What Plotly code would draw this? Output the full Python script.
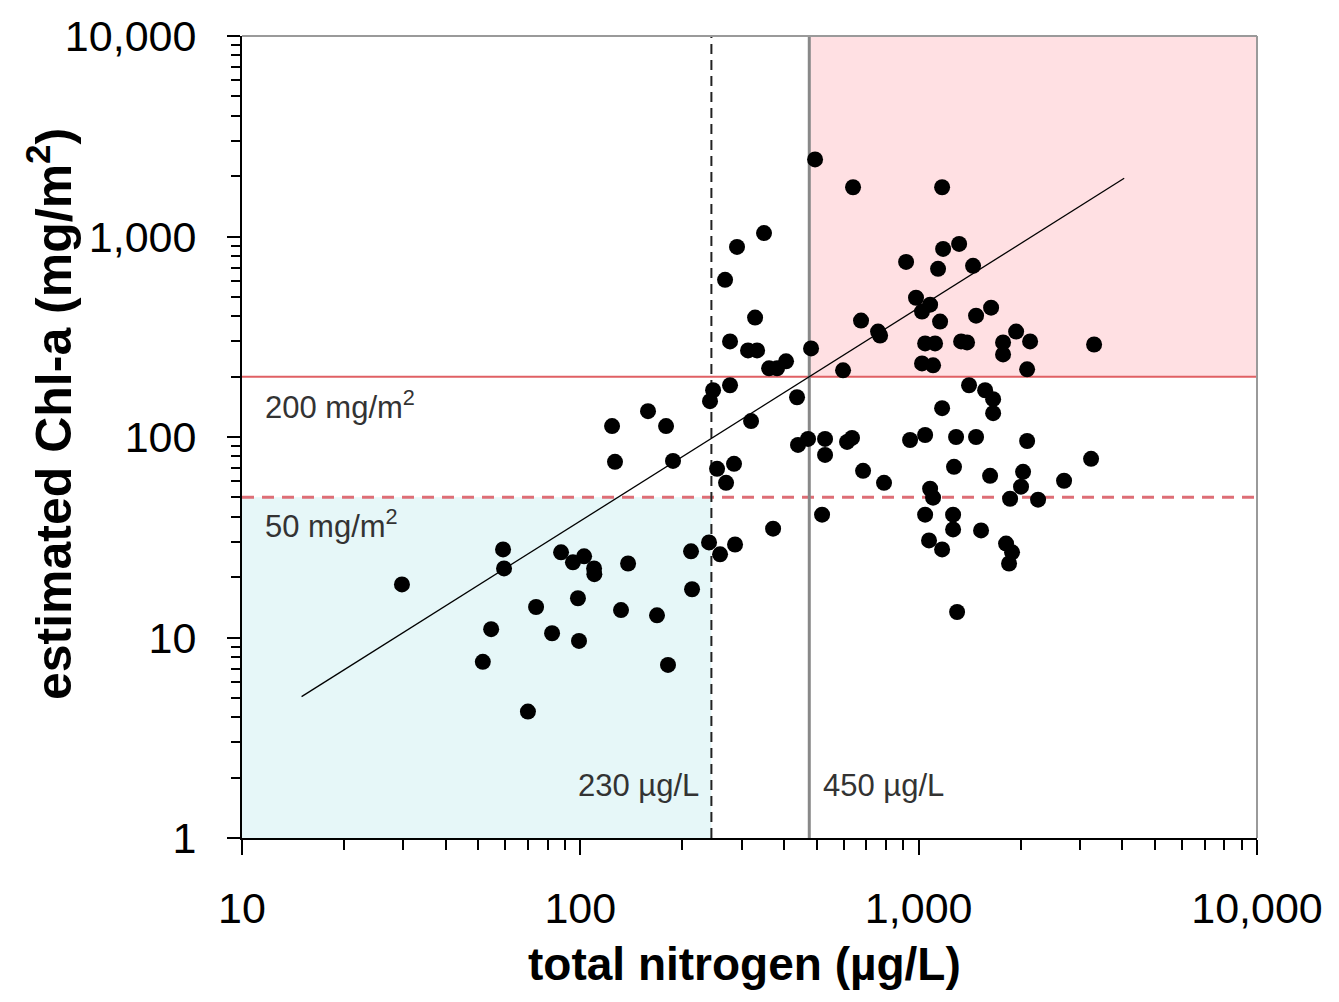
import numpy as np
import plotly.graph_objects as go

# ---- data ----
total_nitrogen = [
    29.7, 59.1, 59.5, 54.5, 51.5, 70.0, 74.0, 82.5, 87.7, 95.1,
    102.6, 109.8, 110, 98.4, 99.1, 131.9, 138.4, 168.5, 181.6, 212.4,
    213.9, 124.1, 126.6, 158.5, 179.2, 187.9, 240.1, 258.8, 286.6, 253.6,
    284.6, 269.6, 241.7, 246.8, 277.0, 319.6, 371.3, 437.0, 440.0, 471.0,
    528.8, 528.8, 518.2, 480.8, 494.1, 639.8, 1173, 267.8, 290.5, 349.1,
    328.5, 277.0, 313.1, 333.0, 361.3, 381.5, 405.5, 597.7, 675.6, 758.6,
    769.1, 918, 1181, 1317, 1141, 1448, 982, 1081, 1023, 1157,
    1478, 1637, 1045, 1118, 1023, 1103, 1335, 1390, 1941, 1776,
    1776, 2135, 2092, 3300, 1409, 1572, 1660, 1660, 1173, 614.3,
    635.4, 943.3, 1045, 1290, 1478, 2092, 3233, 685, 790, 1081,
    1272, 1626, 2035, 2007, 2690, 1103, 1863, 2254, 1045, 1264,
    1264, 1529, 1073, 1173, 1813, 1888, 1850, 1299,
]
chla = [
    18.4, 27.5, 22.1, 11.0, 7.56, 4.27, 14.2, 10.5, 26.6, 23.7,
    25.4, 22.1, 20.7, 15.7, 9.61, 13.7, 23.4, 12.9, 7.30, 26.9,
    17.4, 113.4, 75.2, 134.6, 113.4, 76.0, 29.8, 26.0, 29.1, 69.4,
    73.5, 59.1, 150.9, 171.1, 181.2, 120.1, 34.9, 157.9, 91.3, 97.8,
    97.8, 81.4, 41.0, 276.5, 2424, 1761, 1761, 608, 887, 1040,
    394, 299.6, 270.3, 270.3, 220.0, 220.0, 238.4, 215.1, 380.8, 335.7,
    320.8, 747, 867, 918, 690, 714, 495, 457, 422, 376.5,
    403, 441.6, 292.8, 292.8, 232.9, 227.7, 299.6, 296.2, 335.7, 296.2,
    258.2, 299.6, 217.6, 289.4, 181.2, 171.1, 154.4, 131.5, 139.3, 94.5,
    98.9, 96.6, 102.3, 100, 100, 95.5, 77.8, 67.8, 59.1, 55.2,
    71.0, 64.0, 67.0, 56.5, 60.5, 49.8, 49.2, 48.7, 41.0, 41.0,
    34.6, 34.2, 30.5, 27.5, 29.4, 26.6, 23.4, 13.4,
]
trend_x = [15, 4050]
trend_y = [5.07, 1951]

tn_low, tn_low_label = 244, "230 µg/L"
tn_high, tn_high_label = 475, "450 µg/L"
chla_high, chla_high_label = 200, "200 mg/m<sup>2</sup>"
chla_low, chla_low_label = 50, "50 mg/m<sup>2</sup>"

x_range = [10, 10000]
y_range = [1, 10000]
x_ticks = [10, 100, 1000, 10000]
x_ticktext = ["10", "100", "1,000", "10,000"]
y_ticks = [1, 10, 100, 1000, 10000]
y_ticktext = ["1", "10", "100", "1,000", "10,000"]

x_minor = [m * 10 ** d for d in range(1, 4) for m in range(2, 10)]
y_minor = [m * 10 ** d for d in range(0, 4) for m in range(2, 10)]

FONT = "Liberation Sans, Arial, sans-serif"

fig = go.Figure()

# shaded zones
fig.add_trace(go.Scatter(
    x=[x_range[0], tn_low, tn_low, x_range[0], x_range[0]],
    y=[y_range[0], y_range[0], chla_low, chla_low, y_range[0]],
    fill="toself", fillcolor="rgb(230,247,248)", mode="lines",
    line=dict(width=0), hoverinfo="skip", showlegend=False))
fig.add_trace(go.Scatter(
    x=[tn_high, x_range[1], x_range[1], tn_high, tn_high],
    y=[chla_high, chla_high, y_range[1], y_range[1], chla_high],
    fill="toself", fillcolor="rgb(255,224,227)", mode="lines",
    line=dict(width=0), hoverinfo="skip", showlegend=False))

# threshold lines
fig.add_trace(go.Scatter(x=x_range, y=[chla_high, chla_high], mode="lines",
                         line=dict(color="rgb(224,96,100)", width=2),
                         hoverinfo="skip", showlegend=False))
fig.add_trace(go.Scatter(x=x_range, y=[chla_low, chla_low], mode="lines",
                         line=dict(color="rgb(222,110,118)", width=3, dash="12px,8px"),
                         hoverinfo="skip", showlegend=False))
fig.add_trace(go.Scatter(x=[tn_low, tn_low], y=y_range, mode="lines",
                         line=dict(color="#222222", width=2, dash="10px,6px"),
                         hoverinfo="skip", showlegend=False))
fig.add_trace(go.Scatter(x=[tn_high, tn_high], y=y_range, mode="lines",
                         line=dict(color="#888888", width=3),
                         hoverinfo="skip", showlegend=False))

# points
fig.add_trace(go.Scatter(x=total_nitrogen, y=chla, mode="markers",
                         marker=dict(color="black", size=16, line=dict(width=0)),
                         showlegend=False))

# regression line
fig.add_trace(go.Scatter(x=trend_x, y=trend_y, mode="lines",
                         line=dict(color="black", width=1.3),
                         hoverinfo="skip", showlegend=False))

axis_common = dict(
    type="log", showgrid=False, zeroline=False, showline=True,
    linecolor="black", linewidth=2, ticks="outside", tickwidth=2,
    tickcolor="black", tickmode="array",
    tickfont=dict(family=FONT, size=43, color="black"),
)
fig.update_xaxes(
    **axis_common, range=[np.log10(x_range[0]), np.log10(x_range[1])],
    tickvals=x_ticks, ticktext=x_ticktext, ticklen=15, ticklabelstandoff=16,
    minor=dict(tickmode="array", tickvals=x_minor, ticks="outside",
               ticklen=10, tickwidth=2, tickcolor="black", showgrid=False),
)
fig.update_yaxes(
    **axis_common, range=[np.log10(y_range[0]), np.log10(y_range[1])],
    tickvals=y_ticks, ticktext=y_ticktext, ticklen=13, ticklabelstandoff=22,
    minor=dict(tickmode="array", tickvals=y_minor, ticks="outside",
               ticklen=9, tickwidth=2, tickcolor="black", showgrid=False),
)

# grey top/right frame
fig.add_shape(type="line", xref="paper", yref="paper", x0=0, x1=1, y0=1, y1=1,
              line=dict(color="#9a9a9a", width=2))
fig.add_shape(type="line", xref="paper", yref="paper", x0=1, x1=1, y0=0, y1=1,
              line=dict(color="#9a9a9a", width=2))

lab_font = dict(family=FONT, size=31, color="#333333")
annotations = [
    dict(x=np.log10(11.5), y=np.log10(144), text=chla_high_label, xanchor="left",
         yanchor="middle", showarrow=False, font=lab_font),
    dict(x=np.log10(11.5), y=np.log10(37), text=chla_low_label, xanchor="left",
         yanchor="middle", showarrow=False, font=lab_font),
    dict(x=np.log10(tn_low), y=np.log10(1.83), text=tn_low_label, xanchor="right",
         yanchor="middle", xshift=-10, showarrow=False, font=lab_font),
    dict(x=np.log10(tn_high), y=np.log10(1.83), text=tn_high_label, xanchor="left",
         yanchor="middle", xshift=12, showarrow=False, font=lab_font),
    dict(xref="paper", yref="paper", x=(744 - 242) / 1015, y=(838 - 965) / 806,
         text="<b>total nitrogen (µg/L)</b>", showarrow=False,
         xanchor="center", yanchor="middle",
         font=dict(family=FONT, size=46, color="black")),
    dict(xref="paper", yref="paper", x=(50 - 242) / 1015, y=(838 - 412) / 806,
         text="<b>estimated Chl-a (mg/m<sup>2</sup>)</b>", showarrow=False,
         textangle=-90, xanchor="center", yanchor="middle",
         font=dict(family=FONT, size=50, color="black")),
]

fig.update_layout(
    width=1339, height=1002,
    margin=dict(l=242, r=82, t=32, b=164),
    paper_bgcolor="white", plot_bgcolor="white",
    annotations=annotations, showlegend=False,
)

fig.write_html("out.html")
